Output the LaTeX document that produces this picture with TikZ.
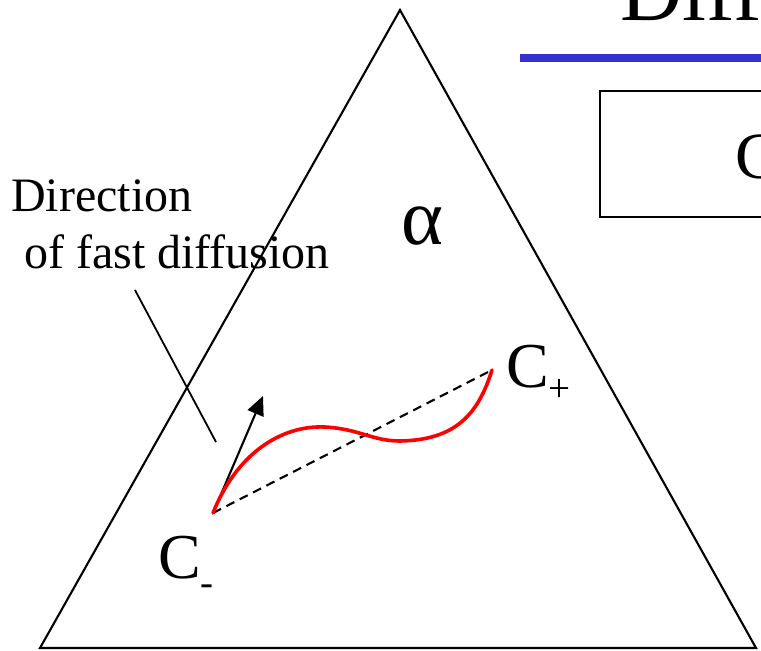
\documentclass[tikz,border=0pt]{standalone}
\usepackage{fontspec}
\setmainfont{Liberation Serif}
\usetikzlibrary{arrows.meta}
\definecolor{SlideBlue}{RGB}{51, 51, 204}
\definecolor{PathRed}{RGB}{255, 0, 0}

\begin{document}
\begin{tikzpicture}[x=1pt,y=-1pt,
  plain/.style={black, line width=2.1pt},
  lbl/.style={inner sep=0pt, anchor=base west}]
  \useasboundingbox (0,0) rectangle (761,651);
  \clip (0,0) rectangle (761,651);
  % slide title and frame, cut off at the right
  \node[lbl, font=\fontsize{86}{90}\selectfont] (title) at (620,20) {Diff};
  \draw[SlideBlue, line width=8pt] (520,58) -- (780,58);
  \draw[plain, line width=1.8pt] (600,91) rectangle (790,217);
  \node[lbl, font=\fontsize{66}{70}\selectfont] (boxc) at (735,178) {C};

  % phase triangle
  \coordinate (top) at (400,10);
  \coordinate (left) at (40,648);
  \coordinate (right) at (756,648);
  \draw[plain, line join=miter] (top) -- (left) -- (right) -- cycle;
  \node[font=\fontsize{80}{80}\selectfont] (alpha) at (422,226) {α};

  % end points of the path
  \coordinate (cm) at (213,513);
  \coordinate (cp) at (492,370);
  \coordinate (tip) at (263,396);
  \node[lbl, font=\fontsize{64}{64}\selectfont] (cmlbl) at (158,578)
    {C\raisebox{-17pt}{\fontsize{39}{39}\selectfont -}};
  \node[lbl, font=\fontsize{64}{64}\selectfont] (cplbl) at (506,387)
    {C\raisebox{-14pt}{\fontsize{39}{39}\selectfont +}};

  \draw[plain, dash pattern=on 9pt off 6pt] (cm) -- (cp);
  \draw[plain, -{Triangle[length=19pt,width=17pt]}] (cm) -- (tip);
  \draw[PathRed, line width=3.6pt, line cap=round]
    (cm) .. controls (236,455) and (280,425) .. (325,427)
         .. controls (360,429) and (372,441) .. (400,441)
         .. controls (455,440) and (478,415) .. (cp);

  % annotation
  \node[lbl, font=\fontsize{48}{48}\selectfont] (dir1) at (11,211) {Direction};
  \node[lbl, font=\fontsize{48}{48}\selectfont] (dir2) at (24,268) {of fast diffusion};
  \coordinate (ptr) at (216,442);
  \draw[plain, line width=1.8pt] (135,290) -- (ptr);
\end{tikzpicture}
\end{document}
